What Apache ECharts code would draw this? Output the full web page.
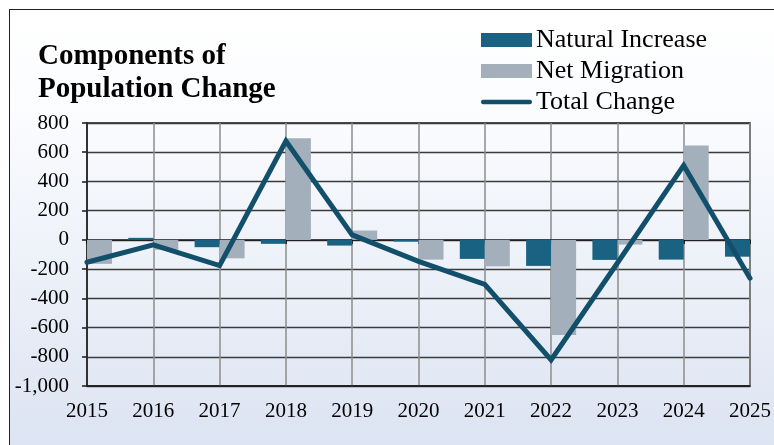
<!DOCTYPE html>
<html><head><meta charset="utf-8">
<script src="https://cdn.jsdelivr.net/npm/echarts@6/dist/echarts.min.js"></script>
<style>
html,body{margin:0;padding:0;background:#fff;}
#wrap{position:relative;width:774px;height:445px;overflow:hidden;background:#fff;}
#frame{position:absolute;left:9px;top:9px;width:800px;height:460px;border:1.5px solid #222;
 background:linear-gradient(180deg,#ffffff 0%,#fbfcfe 22%,#dae2f1 100%);}
#chart{position:absolute;left:0;top:0;width:774px;height:445px;}
</style></head>
<body><div id="wrap"><div id="frame"></div><div id="chart"></div></div>
<script>
const years = ['2015','2016','2017','2018','2019','2020','2021','2022','2023','2024','2025'];
const naturalIncrease = [10, 14, -50, -27, -39, -12, -130, -178, -137, -135, -115];
const netMigration = [-164, -68, -126, 696, 64, -135, -181, -651, -32, 646, -150];
const totalChange = [-153, -34, -176, 676, 34, -147, -305, -822, -158, 510, -262];
const yTicks = {min: -1000, max: 800, interval: 200};

const serif = '"Liberation Serif","Times New Roman",serif';
const BAR_W = 25;
function barRenderer(side) {
  return function (params, api) {
    const idx = api.value(0), v = api.value(1);
    const p0 = api.coord([idx, 0]);
    const p1 = api.coord([idx, v]);
    const rect = {
      x: side < 0 ? p0[0] - BAR_W : p0[0],
      y: Math.min(p0[1], p1[1]),
      width: BAR_W,
      height: Math.abs(p1[1] - p0[1])
    };
    const cs = params.coordSys;
    const clipped = echarts.graphic.clipRectByRect(rect, {x: cs.x, y: cs.y, width: cs.width, height: cs.height});
    if (!clipped) return;
    return {type: 'rect', shape: clipped, style: api.style()};
  };
}
const niData = naturalIncrease.map((v, i) => [i, v]);
const nmData = netMigration.map((v, i) => [i, v]);

const chart = echarts.init(document.getElementById('chart'), null, {renderer: 'canvas'});
chart.setOption({
  backgroundColor: 'transparent',
  animation: false,
  title: {
    text: 'Components of\nPopulation Change',
    left: 33, top: 35,
    textStyle: {fontFamily: serif, fontWeight: 'bold', fontSize: 29, lineHeight: 33, color: '#000'}
  },
  legend: {
    orient: 'vertical', left: 476, top: 22,
    itemWidth: 51, itemHeight: 14, itemGap: 5,
    textStyle: {fontFamily: serif, fontSize: 26, lineHeight: 26, color: '#000', padding: [0,0,0,-1]},
    data: [
      {name: 'Natural Increase', icon: 'rect', itemStyle: {color: '#1a6282'}},
      {name: 'Net Migration', icon: 'rect', itemStyle: {color: '#a3afba'}},
      {name: 'Total Change', icon: 'path://M2.5,0 L54.5,0 A2.5,2.5 0 0 1 54.5,5 L2.5,5 A2.5,2.5 0 0 1 2.5,0 Z',
       itemStyle: {color: '#124f6a'}}
    ]
  },
  grid: {left: 87, right: 22, top: 123, bottom: 59, show: true, borderColor: '#1a1a1a', borderWidth: 1.5, backgroundColor: 'transparent'},
  xAxis: [{
    type: 'category', data: years, boundaryGap: false, position: 'bottom',
    axisLine: {show: true, onZero: false, lineStyle: {color: '#1a1a1a', width: 1.5}},
    axisTick: {show: false},
    splitLine: {show: true, lineStyle: {color: '#8c8c8c', width: 1.5}},
    axisLabel: {fontFamily: serif, fontSize: 21, color: '#000', margin: 15}
  },{
    type: 'category', data: years, boundaryGap: false, position: 'top',
    axisLine: {show: true, onZero: true, lineStyle: {color: '#1a1a1a', width: 1.5}},
    axisTick: {show: true, inside: true, length: 4, lineStyle: {color: '#000', width: 1.5}},
    splitLine: {show: false},
    axisLabel: {show: false}
  }],
  yAxis: {
    type: 'value', min: yTicks.min, max: yTicks.max, interval: yTicks.interval,
    axisLine: {show: true, lineStyle: {color: '#1a1a1a', width: 1.5}},
    axisTick: {show: true, length: 5, lineStyle: {color: '#1a1a1a', width: 1.5}},
    splitLine: {show: true, lineStyle: {color: '#3a3a3a', width: 1.3}},
    axisLabel: {fontFamily: serif, fontSize: 21, color: '#000', margin: 18,
      formatter: v => v.toLocaleString('en-US')}
  },
  series: [
    {name: 'Natural Increase', type: 'custom', data: niData, encode: {x: 0, y: 1},
     xAxisIndex: 0, renderItem: barRenderer(-1), itemStyle: {color: '#1a6282'}, z: 2},
    {name: 'Net Migration', type: 'custom', data: nmData, encode: {x: 0, y: 1},
     xAxisIndex: 0, renderItem: barRenderer(1), itemStyle: {color: '#a3afba'}, z: 2},
    {name: 'Total Change', type: 'line', data: totalChange, xAxisIndex: 0, symbol: 'none',
     lineStyle: {color: '#124f6a', width: 5, cap: 'round', join: 'miter'}, itemStyle: {color: '#124f6a'}, z: 5}
  ]
});
</script></body></html>
